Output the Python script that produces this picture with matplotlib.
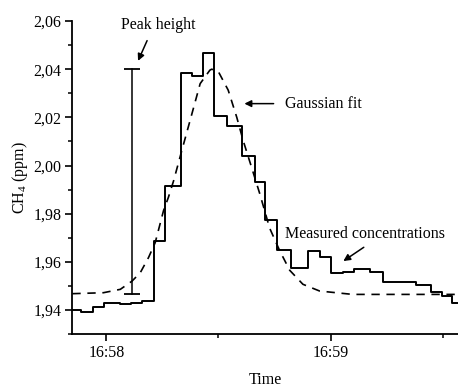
import numpy as np
import pandas as pd
import matplotlib
matplotlib.use('Agg')
import matplotlib.pyplot as plt
import matplotlib.dates as mdates
from matplotlib.ticker import MultipleLocator, FuncFormatter

# Measured CH4 (step series): seconds after 16:58:00 and value (ppm)
meas_sec = [-9.1, -6.75, -3.55, -0.72, 3.73, 6.67, 9.52, 12.85, 15.73, 19.92,
            22.85, 25.95, 28.8, 32.35, 36.19, 39.73, 42.4, 45.79, 49.52, 53.95,
            57.07, 60.19, 63.2, 66.4, 70.6, 73.95, 82.85, 86.85, 89.87, 92.6, 94.1]
meas_ppm = [1.9400, 1.9390, 1.9413, 1.9430, 1.9424, 1.9430, 1.9436, 1.9688, 1.9917, 2.0386,
            2.0371, 2.0468, 2.0205, 2.0164, 2.0039, 1.9933, 1.9774, 1.9649, 1.9576, 1.9646,
            1.9620, 1.9552, 1.9558, 1.9570, 1.9558, 1.9516, 1.9504, 1.9474, 1.9460, 1.9430, 1.9430]

# Gaussian fit curve
fit_sec = [-9.1, -0.8, 3.73, 6.85, 9.07, 11.28, 13.07, 15.3, 16.6, 18.0, 20.2, 22.4,
           25.1, 27.7, 28.2, 30.0, 32.6, 34.9, 36.6, 38.85, 41.07, 43.7, 46.4, 49.07,
           52.6, 57.07, 65.9, 94.1]
fit_ppm = [1.9468, 1.9472, 1.9486, 1.9520, 1.9555, 1.9618, 1.9680, 1.9813, 1.9868, 1.9937,
           2.0063, 2.0187, 2.0340, 2.0396, 2.0400, 2.0389, 2.0313, 2.0200, 2.0104, 1.9993,
           1.9882, 1.9740, 1.9646, 1.9565, 1.9507, 1.9479, 1.9465, 1.9465]

# Peak height marker
peak_sec = 6.8
peak_base = 1.9465
peak_top = 2.040

t0 = pd.Timestamp('2020-01-01 16:58:00')
to_time = lambda secs: [t0 + pd.Timedelta(seconds=s) for s in secs]

plt.rcParams['font.family'] = ['Liberation Serif', 'DejaVu Serif']
plt.rcParams['font.size'] = 11.5
plt.rcParams['mathtext.fontset'] = 'custom'
plt.rcParams['mathtext.rm'] = 'Liberation Serif'

fig = plt.figure(figsize=(4.58, 3.89), dpi=100)
ax = fig.add_axes([0.158, 0.141, 0.842, 0.805])

ax.plot(to_time(meas_sec), meas_ppm, drawstyle='steps-post', color='black', lw=1.4)
ax.plot(to_time(fit_sec), fit_ppm, color='black', lw=1.2, linestyle=(0, (5, 4)))

# Peak height bar with caps
pt = to_time([peak_sec])[0]
ax.plot([pt, pt], [peak_base, peak_top], color='black', lw=1.1)
ax.plot([pt, pt], [peak_base, peak_top], linestyle='none', marker='_',
        markersize=12, markeredgewidth=1.3, color='black')

arrow = dict(arrowstyle='-|>', color='black', lw=1.1, mutation_scale=10)
ax.text(to_time([13.8])[0], 2.0583, 'Peak height', ha='center', va='center')
ax.annotate('', xy=(to_time([8.18])[0], 2.0424), xytext=(to_time([11.2])[0], 2.0529),
            arrowprops=arrow)
ax.text(to_time([47.7])[0], 2.0257, 'Gaussian fit', ha='left', va='center')
ax.annotate('', xy=(to_time([36.2])[0], 2.0257), xytext=(to_time([45.5])[0], 2.0257),
            arrowprops=arrow)
ax.text(to_time([47.7])[0], 1.9715, 'Measured concentrations', ha='left', va='center')
ax.annotate('', xy=(to_time([62.8])[0], 1.9597), xytext=(to_time([69.5])[0], 1.9667),
            arrowprops=arrow)

ax.set_ylim(1.93, 2.06)
ax.set_xlim(to_time([-9.1])[0], to_time([94.1])[0])
ax.yaxis.set_major_locator(MultipleLocator(0.02))
ax.yaxis.set_minor_locator(MultipleLocator(0.01))
ax.yaxis.set_major_formatter(FuncFormatter(lambda v, p: f'{v:.2f}'.replace('.', ',')))
ax.xaxis.set_major_locator(mdates.MinuteLocator())
ax.xaxis.set_minor_locator(mdates.SecondLocator(bysecond=[30]))
ax.xaxis.set_major_formatter(mdates.DateFormatter('%H:%M'))

ax.spines['top'].set_visible(False)
ax.spines['right'].set_visible(False)
for s in ['left', 'bottom']:
    ax.spines[s].set_linewidth(1.3)
ax.tick_params(which='major', direction='out', length=5, width=1.2, pad=3)
ax.tick_params(which='minor', direction='out', length=3, width=1.1)

ax.set_ylabel('CH$_4$ (ppm)', labelpad=2)
ax.set_xlabel('Time', labelpad=8)

fig.savefig('out.png', dpi=100)
